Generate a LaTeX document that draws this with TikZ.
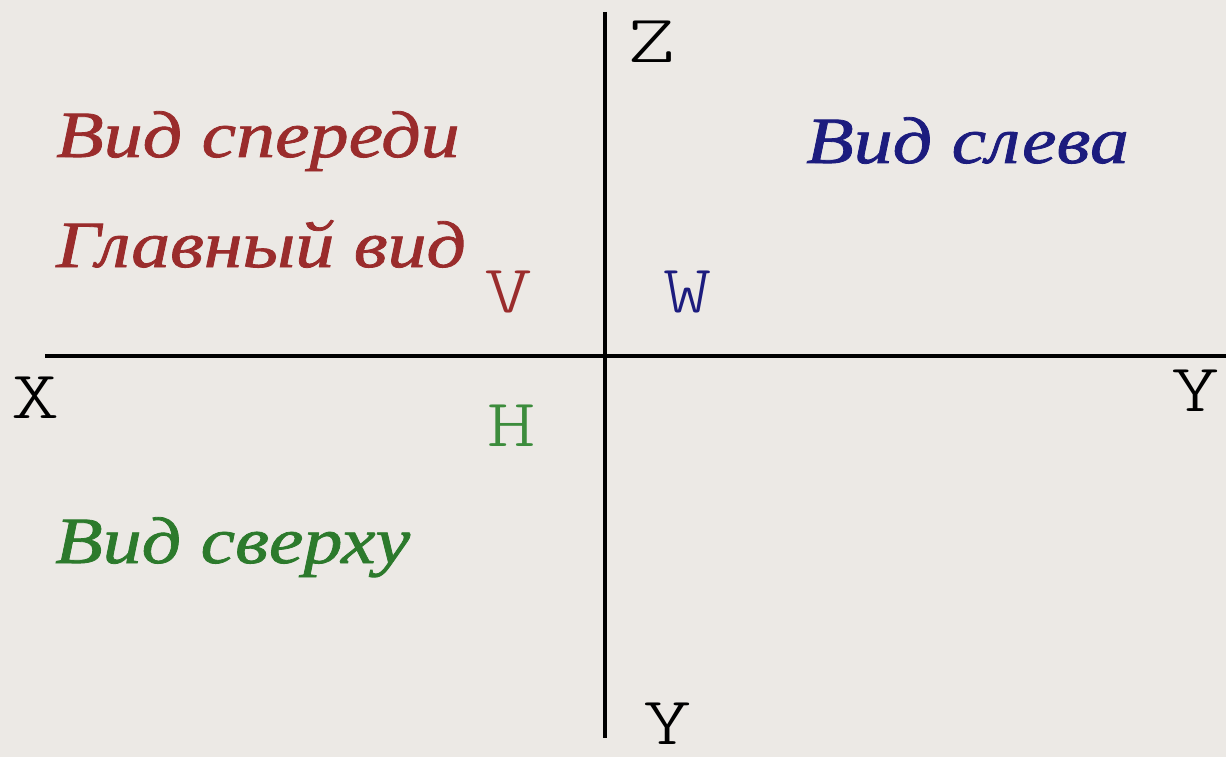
\documentclass[tikz,border=0pt]{standalone}
\usepackage{fontspec}
\setmainfont{Liberation Serif}
\newfontfamily\viewfont{Liberation Serif}[FakeStretch=1.18,FakeBold=1.2]
\newfontfamily\axisfont{Latin Modern Mono Light}[FakeStretch=1.35]
\usetikzlibrary{positioning}

\definecolor{paper}{HTML}{ECE9E5}
\definecolor{viewred}{HTML}{9A2C2C}
\definecolor{viewblue}{HTML}{1C1C7E}
\definecolor{viewgreen}{HTML}{2C7A2C}
\definecolor{planegreen}{HTML}{3C8C3C}

\begin{document}
\begin{tikzpicture}[x=1pt,y=-1pt]
\tikzset{
  axisline/.style={draw=black,line width=3.2pt},
  axislabel/.style={inner sep=0pt,font=\axisfont\fontsize{68}{68}\selectfont},
  viewlabel/.style={inner sep=0pt,anchor=base west,font=\viewfont\itshape\fontsize{66}{66}\selectfont}
}
\fill[paper] (0,0) rectangle (1226,757);
\useasboundingbox (0,0) rectangle (1226,757);
\coordinate (c_top) at (605,12);
\coordinate (c_bottom) at (605,738);
\coordinate (c_left) at (45,356);
\coordinate (c_right) at (1226,356);
\node[axislabel] (n_Z) at (652,42) {Z};
\node[axislabel] (n_X) at (36,398) {X};
\node[axislabel] (n_Yr) at (1196,391) {Y};
\node[axislabel] (n_Yb) at (668,724) {Y};
\node[axislabel,text=viewred] (n_V) at (509,292) {V};
\node[axislabel,text=viewblue] (n_W) at (688,292) {W};
\node[axislabel,text=planegreen] (n_H) at (512,426) {H};
\node[viewlabel,text=viewred] (n_front) at (56,157) {Вид спереди};
\node[viewlabel,text=viewred] (n_main) at (56,267) {Главный вид};
\node[viewlabel,text=viewblue] (n_left) at (806,163) {Вид слева};
\node[viewlabel,text=viewgreen] (n_top) at (55,563) {Вид сверху};
\draw[axisline] (c_top) -- (c_bottom);
\draw[axisline] (c_left) -- (c_right);
\end{tikzpicture}
\end{document}
